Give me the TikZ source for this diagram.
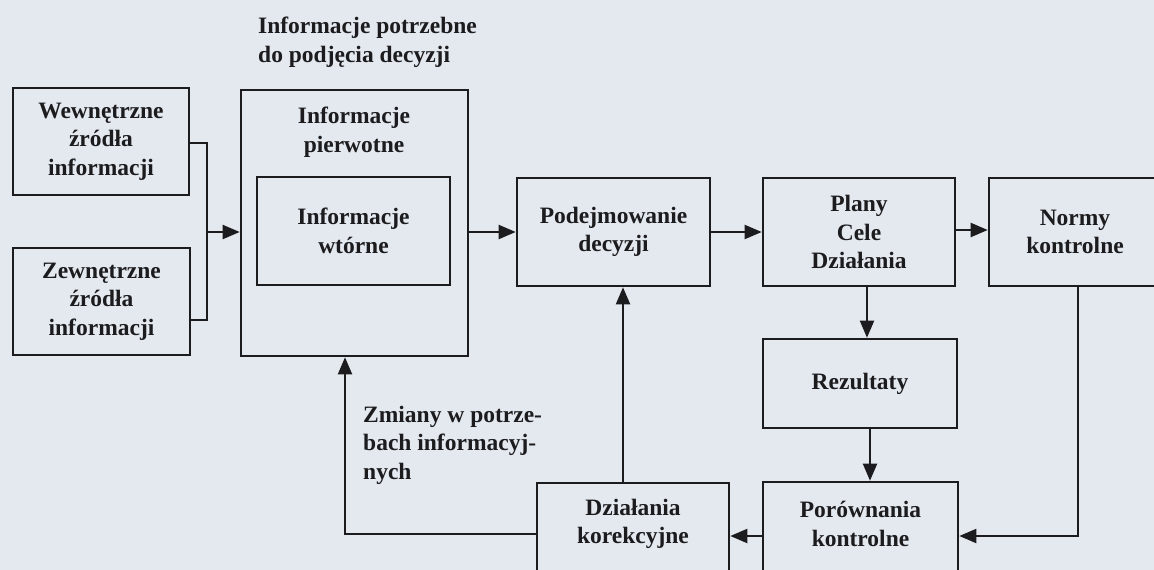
\documentclass[tikz,border=0pt]{standalone}
\usepackage{fontspec}
\setmainfont{Liberation Serif}
\usetikzlibrary{arrows.meta}
\definecolor{paper}{RGB}{228,232,239}
\definecolor{ink}{RGB}{28,28,30}
\begin{document}
\begin{tikzpicture}[x=1pt,y=-1pt,
  lbl/.style={font=\fontsize{23.5}{28.5}\selectfont\bfseries, text=ink, align=center, inner sep=0pt},
  box/.style={lbl, draw=ink, line width=2.6pt},
  conn/.style={draw=ink, line width=2pt},
  arr/.style={conn, -{Triangle[length=17pt,width=14pt]}}]
  % page and frame
  \fill[paper] (0,0) rectangle (1154,570);
  \useasboundingbox (0,0) rectangle (1154,570);
  \clip (0,0) rectangle (1154,570);

  % heading over the information block (anchored on its last baseline)
  \node[lbl, align=left, anchor=base west] (head) at (258,62)
    {Informacje potrzebne\\do podjęcia decyzji};

  % sources of information
  \node[box, minimum width=176pt, minimum height=107pt] (wew) at (101,141.5)
    {Wewnętrzne\\źródła\\informacji};
  \node[box, minimum width=177pt, minimum height=107pt] (zew) at (101.5,301.5)
    {Zewnętrzne\\źródła\\informacji};

  % information block
  \node[box, minimum width=227pt, minimum height=266pt] (pier) at (354.5,223) {};
  \node[lbl] (pierlab) at (354,132) {Informacje\\pierwotne};
  \node[box, minimum width=193pt, minimum height=108pt] (wt) at (353.5,231)
    {Informacje\\wtórne};

  % decision chain
  \node[box, minimum width=193pt, minimum height=108pt] (pod) at (613.5,232)
    {Podejmowanie\\decyzji};
  \node[box, minimum width=192pt, minimum height=108pt] (plany) at (859,232)
    {Plany\\Cele\\Działania};
  \node[box, minimum width=172pt, minimum height=108pt] (normy) at (1075,232)
    {Normy\\kontrolne};
  \node[box, minimum width=194pt, minimum height=89pt] (rez) at (860,383.5)
    {Rezultaty};

  % control loop (bottom boxes run past the lower edge)
  \node[box, minimum width=195pt, minimum height=108pt] (por) at (860.5,536) {};
  \node[lbl] (porlab) at (860.5,524) {Porównania\\kontrolne};
  \node[box, minimum width=192pt, minimum height=108pt] (dzi) at (633,537) {};
  \node[lbl] (dzilab) at (633,524) {Działania\\korekcyjne};

  \node[lbl, align=left, anchor=base west] (zmiany) at (363,479)
    {Zmiany w potrze-\\bach informacyj-\\nych};

  % connectors
  \coordinate (join) at (207,232);
  \draw[conn] (wew.east |- 0,143) -| (join) |- ([yshift=-18.5pt]zew.east);
  \draw[arr] (join) -- (join -| pier.west);
  \draw[arr] (pier.east |- pod.west) -- (pod.west);
  \draw[arr] (pod.east) -- (plany.west);
  \draw[arr] ([yshift=2pt]plany.east) -- ([yshift=2pt]normy.west);
  \draw[arr] ([xshift=8pt]plany.south) -- ([xshift=8pt]plany.south |- rez.north);
  \draw[arr] ([xshift=10pt]rez.south) -- ([xshift=10pt]rez.south |- por.north);
  \draw[arr] ([xshift=3pt]normy.south) |- (por.east);
  \draw[arr] (por.west) -- (por.west -| dzi.east);
  \draw[arr] ([xshift=-10pt]dzi.north) -- ([xshift=-10pt]dzi.north |- pod.south);
  \draw[arr] ([yshift=3pt]dzi.west) -| ([xshift=-9.5pt]pier.south);
\end{tikzpicture}
\end{document}
